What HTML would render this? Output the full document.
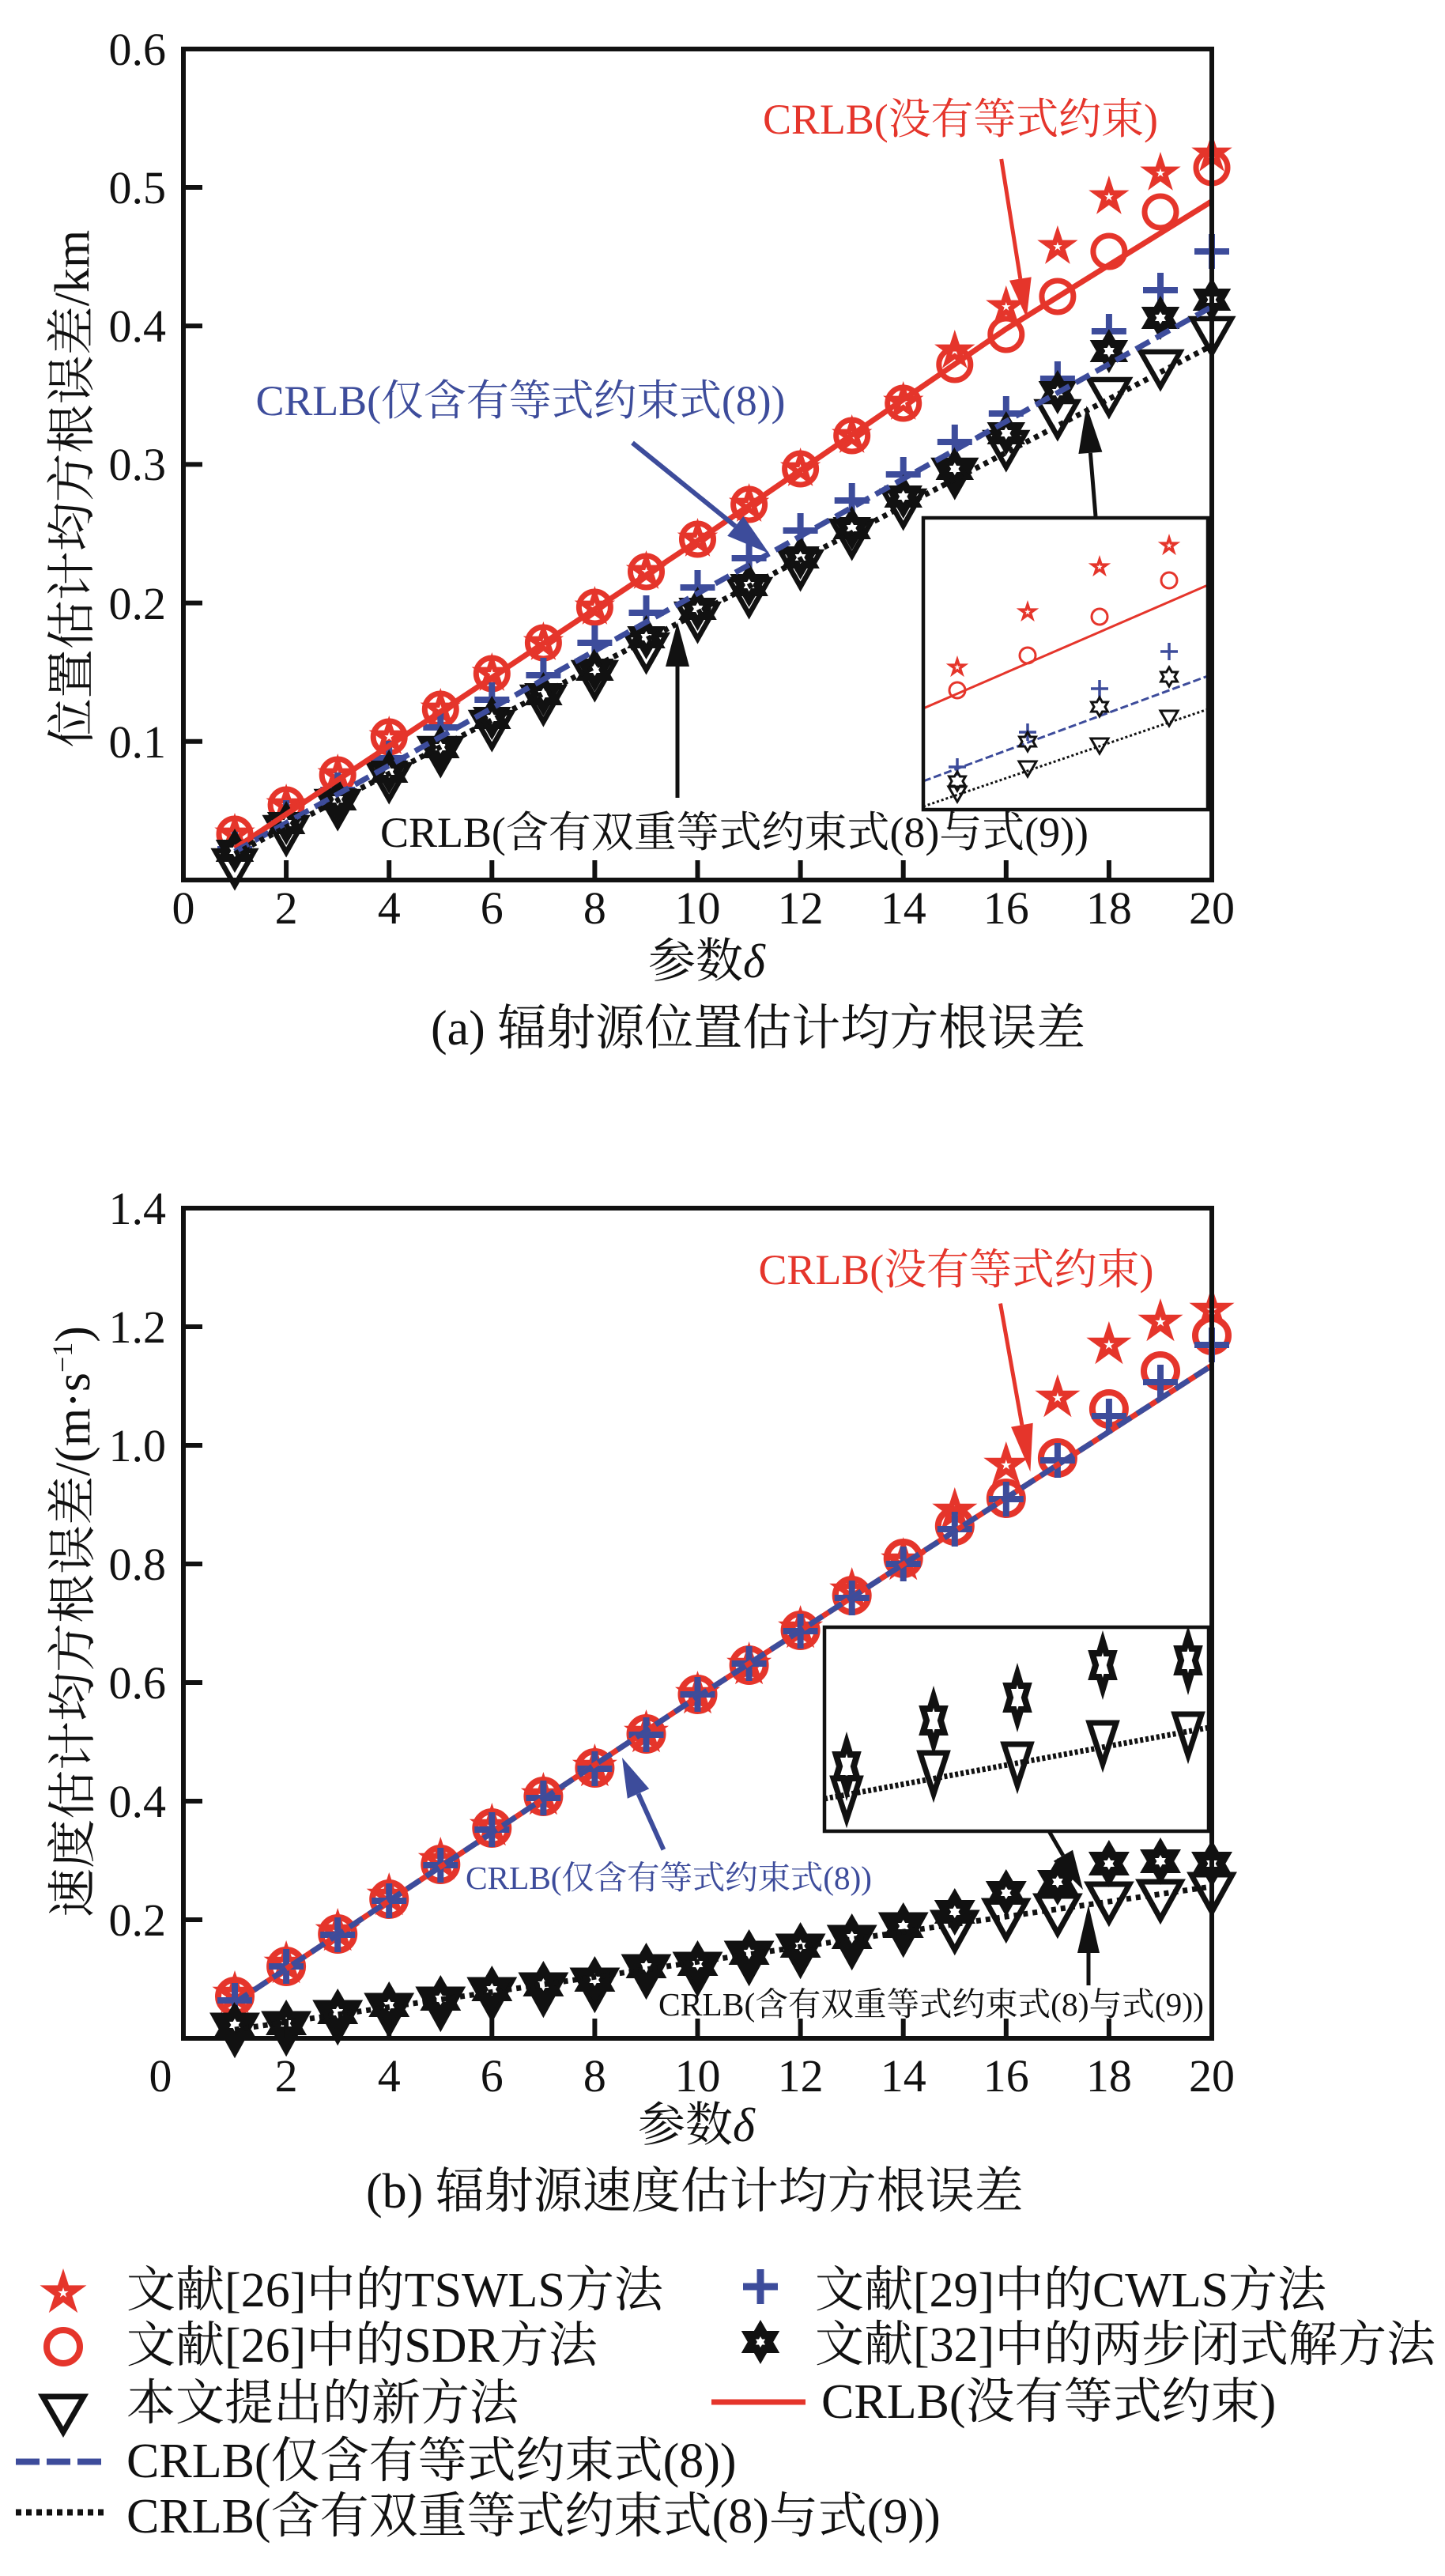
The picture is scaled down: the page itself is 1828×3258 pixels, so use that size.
<!DOCTYPE html>
<html>
<head>
<meta charset="utf-8">
<style>
html,body{margin:0;padding:0;background:#fff;}
svg{display:block;}
text{font-family:"Liberation Serif","Noto Serif CJK SC",serif;}
</style>
</head>
<body>
<svg xmlns="http://www.w3.org/2000/svg" width="1828" height="3258" viewBox="0 0 1828 3258">
<defs>
<polygon id="pent" points="0,-1 0.2245,-0.309 0.9511,-0.309 0.3633,0.118 0.5878,0.809 0,0.382 -0.5878,0.809 -0.3633,0.118 -0.9511,-0.309 -0.2245,-0.309"/>
<polygon id="hexp" points="0,-1 0.2887,-0.5 0.866,-0.5 0.577,0 0.866,0.5 0.2887,0.5 0,1 -0.2887,0.5 -0.866,0.5 -0.577,0 -0.866,-0.5 -0.2887,-0.5"/>
<g id="rsA"><use href="#pent" transform="scale(27)" fill="#e5352b"/><use href="#pent" transform="scale(6)" fill="#fff"/></g>
<g id="rcA"><circle r="20" fill="none" stroke="#e5352b" stroke-width="7"/></g>
<g id="bpA"><path d="M-22 0H22M0 -22V22" stroke="#3d4c9b" stroke-width="8" fill="none"/></g>
<g id="khA"><use href="#hexp" transform="scale(28)" fill="#111"/><use href="#hexp" transform="scale(8)" fill="#fff"/></g>
<g id="ktA"><polygon points="-25,-16 25,-16 0,28" fill="none" stroke="#111" stroke-width="6.5"/></g>
<g id="rsB"><use href="#pent" transform="scale(30)" fill="#e5352b"/><use href="#pent" transform="scale(7)" fill="#fff"/></g>
<g id="rcB"><circle r="21" fill="none" stroke="#e5352b" stroke-width="8"/></g>
<g id="khB"><use href="#hexp" transform="scale(30)" fill="#111"/><use href="#hexp" transform="scale(8)" fill="#fff"/></g>
<g id="ktB"><polygon points="-26,-17 26,-17 0,30" fill="none" stroke="#111" stroke-width="7"/></g>
<g id="rsI"><use href="#pent" transform="scale(15)" fill="#e5352b"/><use href="#pent" transform="scale(4)" fill="#fff"/></g>
<g id="rcI"><circle r="10" fill="none" stroke="#e5352b" stroke-width="3"/></g>
<g id="bpI"><path d="M-11 0H11M0 -11V11" stroke="#3d4c9b" stroke-width="3.5" fill="none"/></g>
<g id="khI"><use href="#hexp" transform="scale(12)" fill="none" stroke="#111" stroke-width="0.25"/></g>
<g id="ktI"><polygon points="-11,-7 11,-7 0,12" fill="none" stroke="#111" stroke-width="3"/></g>
<g id="khJ"><polygon points="0,-30 4.47,-15 13.4,-15 8.93,0 13.4,15 4.47,15 0,30 -4.47,15 -13.4,15 -8.93,0 -13.4,-15 -4.47,-15" fill="none" stroke="#111" stroke-width="8"/></g>
<g id="ktJ"><polygon points="-17,-20 17,-20 0,32" fill="none" stroke="#111" stroke-width="7"/></g>
<clipPath id="clipA"><rect x="1168" y="655" width="360" height="369"/></clipPath>
<clipPath id="clipB"><rect x="1043" y="2058" width="486" height="258"/></clipPath>
</defs>

<!-- ================= PLOT (a) ================= -->
<g>
<use href="#rsA" x="297" y="1055"/><use href="#rsA" x="362.1" y="1018"/><use href="#rsA" x="427.2" y="980"/><use href="#rsA" x="492.2" y="932"/><use href="#rsA" x="557.3" y="897"/><use href="#rsA" x="622.3" y="852"/><use href="#rsA" x="687.4" y="813"/><use href="#rsA" x="752.4" y="768"/><use href="#rsA" x="817.5" y="723"/><use href="#rsA" x="882.5" y="682"/><use href="#rsA" x="947.6" y="638"/><use href="#rsA" x="1012.6" y="593"/><use href="#rsA" x="1077.7" y="551"/><use href="#rsA" x="1142.7" y="509"/><use href="#rsA" x="1207.8" y="444"/><use href="#rsA" x="1272.8" y="388"/><use href="#rsA" x="1337.9" y="312"/><use href="#rsA" x="1402.9" y="249"/><use href="#rsA" x="1468" y="219"/><use href="#rsA" x="1533" y="195"/>
</g>
<g>
<use href="#rcA" x="297" y="1055"/><use href="#rcA" x="362.1" y="1018"/><use href="#rcA" x="427.2" y="980"/><use href="#rcA" x="492.2" y="932"/><use href="#rcA" x="557.3" y="897"/><use href="#rcA" x="622.3" y="852"/><use href="#rcA" x="687.4" y="813"/><use href="#rcA" x="752.4" y="768"/><use href="#rcA" x="817.5" y="723"/><use href="#rcA" x="882.5" y="682"/><use href="#rcA" x="947.6" y="638"/><use href="#rcA" x="1012.6" y="593"/><use href="#rcA" x="1077.7" y="551"/><use href="#rcA" x="1142.7" y="510"/><use href="#rcA" x="1207.8" y="461"/><use href="#rcA" x="1272.8" y="423"/><use href="#rcA" x="1337.9" y="375"/><use href="#rcA" x="1402.9" y="318"/><use href="#rcA" x="1468" y="268"/><use href="#rcA" x="1533" y="212"/>
</g>
<g>
<use href="#bpA" x="297" y="1074"/><use href="#bpA" x="362.1" y="1034"/><use href="#bpA" x="427.2" y="999"/><use href="#bpA" x="492.2" y="959"/><use href="#bpA" x="557.3" y="920"/><use href="#bpA" x="622.3" y="885"/><use href="#bpA" x="687.4" y="854"/><use href="#bpA" x="752.4" y="813"/><use href="#bpA" x="817.5" y="775"/><use href="#bpA" x="882.5" y="743"/><use href="#bpA" x="947.6" y="706"/><use href="#bpA" x="1012.6" y="671"/><use href="#bpA" x="1077.7" y="633"/><use href="#bpA" x="1142.7" y="600"/><use href="#bpA" x="1207.8" y="559"/><use href="#bpA" x="1272.8" y="523"/><use href="#bpA" x="1337.9" y="479"/><use href="#bpA" x="1402.9" y="419"/><use href="#bpA" x="1468" y="367"/><use href="#bpA" x="1533" y="318"/>
</g>
<g>
<use href="#ktA" x="297" y="1092"/><use href="#ktA" x="362.1" y="1050"/><use href="#ktA" x="427.2" y="1017"/><use href="#ktA" x="492.2" y="983"/><use href="#ktA" x="557.3" y="950"/><use href="#ktA" x="622.3" y="917"/><use href="#ktA" x="687.4" y="885"/><use href="#ktA" x="752.4" y="854"/><use href="#ktA" x="817.5" y="819"/><use href="#ktA" x="882.5" y="780"/><use href="#ktA" x="947.6" y="749"/><use href="#ktA" x="1012.6" y="714"/><use href="#ktA" x="1077.7" y="675"/><use href="#ktA" x="1142.7" y="637"/><use href="#ktA" x="1207.8" y="598"/><use href="#ktA" x="1272.8" y="563"/><use href="#ktA" x="1337.9" y="524"/><use href="#ktA" x="1402.9" y="496"/><use href="#ktA" x="1468" y="461"/><use href="#ktA" x="1533" y="419"/>
</g>
<g>
<use href="#khA" x="297" y="1076"/><use href="#khA" x="362.1" y="1041"/><use href="#khA" x="427.2" y="1011"/><use href="#khA" x="492.2" y="976"/><use href="#khA" x="557.3" y="945"/><use href="#khA" x="622.3" y="908"/><use href="#khA" x="687.4" y="878"/><use href="#khA" x="752.4" y="847"/><use href="#khA" x="817.5" y="806"/><use href="#khA" x="882.5" y="770"/><use href="#khA" x="947.6" y="740"/><use href="#khA" x="1012.6" y="705"/><use href="#khA" x="1077.7" y="668"/><use href="#khA" x="1142.7" y="628"/><use href="#khA" x="1207.8" y="593"/><use href="#khA" x="1272.8" y="548"/><use href="#khA" x="1337.9" y="496"/><use href="#khA" x="1402.9" y="444"/><use href="#khA" x="1468" y="402"/><use href="#khA" x="1533" y="379"/>
</g>
<polyline points="297,1073 882.5,684 1272.8,416 1533,254.5" fill="none" stroke="#e5352b" stroke-width="7"/>
<line x1="297" y1="1077" x2="1533" y2="388" stroke="#3d4c9b" stroke-width="7" stroke-dasharray="20 9"/>
<line x1="297" y1="1080" x2="1533" y2="437" stroke="#111" stroke-width="7" stroke-dasharray="6 6"/>

<rect x="232" y="62" width="1301" height="1051" fill="none" stroke="#111" stroke-width="6"/>
<path d="M231 237h25M231 412.2h25M231 587.4h25M231 762.6h25M231 937.8h25" stroke="#111" stroke-width="6"/>
<path d="M362.1 1113v-25M492.2 1113v-25M622.3 1113v-25M752.4 1113v-25M882.5 1113v-25M1012.6 1113v-25M1142.7 1113v-25M1272.8 1113v-25M1402.9 1113v-25" stroke="#111" stroke-width="6"/>

<rect x="1168" y="655" width="360" height="369" fill="#fff"/>
<g clip-path="url(#clipA)">
<line x1="1168" y1="896" x2="1528" y2="740" stroke="#e5352b" stroke-width="3"/>
<line x1="1168" y1="988" x2="1528" y2="855" stroke="#3d4c9b" stroke-width="3" stroke-dasharray="10 4"/>
<line x1="1168" y1="1020" x2="1528" y2="897" stroke="#111" stroke-width="3" stroke-dasharray="3 3"/>
<use href="#rsI" x="1211" y="844"/><use href="#rsI" x="1300" y="774"/><use href="#rsI" x="1391" y="717"/><use href="#rsI" x="1479" y="690"/>
<use href="#rcI" x="1211" y="873"/><use href="#rcI" x="1300" y="829"/><use href="#rcI" x="1391" y="780"/><use href="#rcI" x="1479" y="734"/>
<use href="#bpI" x="1211" y="970"/><use href="#bpI" x="1300" y="926"/><use href="#bpI" x="1391" y="871"/><use href="#bpI" x="1479" y="824"/>
<use href="#khI" x="1211" y="988"/><use href="#khI" x="1300" y="938"/><use href="#khI" x="1391" y="894"/><use href="#khI" x="1479" y="856"/>
<use href="#ktI" x="1211" y="1002"/><use href="#ktI" x="1300" y="970"/><use href="#ktI" x="1391" y="941"/><use href="#ktI" x="1479" y="906"/>
</g>
<rect x="1168" y="655" width="360" height="369" fill="none" stroke="#111" stroke-width="4.5"/>

<line x1="1266.7" y1="201" x2="1290.8" y2="352.6" stroke="#e5352b" stroke-width="5"/>
<polygon points="1298.7,402 1277,354.8 1304.7,350.4" fill="#e5352b"/>
<line x1="800" y1="560" x2="930.3" y2="665.4" stroke="#3d4c9b" stroke-width="6"/>
<polygon points="973,700 920.2,677.8 940.4,653" fill="#3d4c9b"/>
<line x1="857" y1="1009" x2="857" y2="843" stroke="#111" stroke-width="5"/>
<polygon points="857,787 842,843 872,843" fill="#111"/>
<line x1="1386" y1="653" x2="1379.4" y2="572.8" stroke="#111" stroke-width="5"/>
<polygon points="1374.5,513 1394.4,571.6 1364.4,574" fill="#111"/>

<text x="965" y="169" font-size="54" fill="#e5352b" textLength="500">CRLB(没有等式约束)</text>
<text x="323.5" y="525" font-size="54" fill="#3d4c9b" textLength="670">CRLB(仅含有等式约束式(8))</text>
<text x="481" y="1071" font-size="54" fill="#111" textLength="896">CRLB(含有双重等式约束式(8)与式(9))</text>

<g font-size="58" fill="#111" text-anchor="end">
<text x="210" y="82">0.6</text><text x="210" y="257">0.5</text><text x="210" y="432">0.4</text><text x="210" y="607">0.3</text><text x="210" y="783">0.2</text><text x="210" y="958">0.1</text>
</g>
<g font-size="58" fill="#111" text-anchor="middle">
<text x="232" y="1168">0</text><text x="362.1" y="1168">2</text><text x="492.2" y="1168">4</text><text x="622.3" y="1168">6</text><text x="752.4" y="1168">8</text><text x="882.5" y="1168">10</text><text x="1012.6" y="1168">12</text><text x="1142.7" y="1168">14</text><text x="1272.8" y="1168">16</text><text x="1402.9" y="1168">18</text><text x="1533" y="1168">20</text>
</g>
<text transform="translate(112,618) rotate(-90)" text-anchor="middle" font-size="62" fill="#111">位置估计均方根误差/km</text>
<text x="820" y="1236" font-size="60" fill="#111">参数<tspan font-style="italic">δ</tspan></text>
<text x="545" y="1321" font-size="62" fill="#111">(a) 辐射源位置估计均方根误差</text>

<!-- ================= PLOT (b) ================= -->
<g>
<use href="#rsB" x="297" y="2522"/><use href="#rsB" x="362.1" y="2484"/><use href="#rsB" x="427.2" y="2443"/><use href="#rsB" x="492.2" y="2398"/><use href="#rsB" x="557.3" y="2353"/><use href="#rsB" x="622.3" y="2310"/><use href="#rsB" x="687.4" y="2271"/><use href="#rsB" x="752.4" y="2235"/><use href="#rsB" x="817.5" y="2192"/><use href="#rsB" x="882.5" y="2143"/><use href="#rsB" x="947.6" y="2106"/><use href="#rsB" x="1012.6" y="2060"/><use href="#rsB" x="1077.7" y="2012"/><use href="#rsB" x="1142.7" y="1974"/><use href="#rsB" x="1207.8" y="1911"/><use href="#rsB" x="1272.8" y="1853"/><use href="#rsB" x="1337.9" y="1768"/><use href="#rsB" x="1402.9" y="1701"/><use href="#rsB" x="1468" y="1672"/><use href="#rsB" x="1533" y="1657"/>
</g>
<g>
<use href="#rcB" x="297" y="2525"/><use href="#rcB" x="362.1" y="2487"/><use href="#rcB" x="427.2" y="2446"/><use href="#rcB" x="492.2" y="2402"/><use href="#rcB" x="557.3" y="2358"/><use href="#rcB" x="622.3" y="2312"/><use href="#rcB" x="687.4" y="2272"/><use href="#rcB" x="752.4" y="2236"/><use href="#rcB" x="817.5" y="2193"/><use href="#rcB" x="882.5" y="2143"/><use href="#rcB" x="947.6" y="2106"/><use href="#rcB" x="1012.6" y="2062"/><use href="#rcB" x="1077.7" y="2018"/><use href="#rcB" x="1142.7" y="1971"/><use href="#rcB" x="1207.8" y="1930"/><use href="#rcB" x="1272.8" y="1895"/><use href="#rcB" x="1337.9" y="1844"/><use href="#rcB" x="1402.9" y="1782"/><use href="#rcB" x="1468" y="1734"/><use href="#rcB" x="1533" y="1689"/>
</g>
<g>
<use href="#bpA" x="297" y="2530"/><use href="#bpA" x="362.1" y="2487"/><use href="#bpA" x="427.2" y="2447"/><use href="#bpA" x="492.2" y="2404"/><use href="#bpA" x="557.3" y="2359"/><use href="#bpA" x="622.3" y="2314"/><use href="#bpA" x="687.4" y="2274"/><use href="#bpA" x="752.4" y="2237"/><use href="#bpA" x="817.5" y="2194"/><use href="#bpA" x="882.5" y="2143"/><use href="#bpA" x="947.6" y="2104"/><use href="#bpA" x="1012.6" y="2063"/><use href="#bpA" x="1077.7" y="2021"/><use href="#bpA" x="1142.7" y="1978"/><use href="#bpA" x="1207.8" y="1934"/><use href="#bpA" x="1272.8" y="1896"/><use href="#bpA" x="1337.9" y="1847"/><use href="#bpA" x="1402.9" y="1791"/><use href="#bpA" x="1468" y="1748"/><use href="#bpA" x="1533" y="1701"/>
</g>
<g>
<use href="#ktB" x="297" y="2566"/><use href="#ktB" x="362.1" y="2564"/><use href="#ktB" x="427.2" y="2550"/><use href="#ktB" x="492.2" y="2541"/><use href="#ktB" x="557.3" y="2533"/><use href="#ktB" x="622.3" y="2521"/><use href="#ktB" x="687.4" y="2515"/><use href="#ktB" x="752.4" y="2509"/><use href="#ktB" x="817.5" y="2492"/><use href="#ktB" x="882.5" y="2489"/><use href="#ktB" x="947.6" y="2475"/><use href="#ktB" x="1012.6" y="2466"/><use href="#ktB" x="1077.7" y="2455"/><use href="#ktB" x="1142.7" y="2439"/><use href="#ktB" x="1207.8" y="2436"/><use href="#ktB" x="1272.8" y="2421"/><use href="#ktB" x="1337.9" y="2415"/><use href="#ktB" x="1402.9" y="2400"/><use href="#ktB" x="1468" y="2397"/><use href="#ktB" x="1533" y="2388"/>
</g>
<g>
<use href="#khB" x="297" y="2561"/><use href="#khB" x="362.1" y="2559"/><use href="#khB" x="427.2" y="2545"/><use href="#khB" x="492.2" y="2536"/><use href="#khB" x="557.3" y="2528"/><use href="#khB" x="622.3" y="2516"/><use href="#khB" x="687.4" y="2510"/><use href="#khB" x="752.4" y="2504"/><use href="#khB" x="817.5" y="2487"/><use href="#khB" x="882.5" y="2484"/><use href="#khB" x="947.6" y="2470"/><use href="#khB" x="1012.6" y="2461"/><use href="#khB" x="1077.7" y="2450"/><use href="#khB" x="1142.7" y="2436"/><use href="#khB" x="1207.8" y="2418"/><use href="#khB" x="1272.8" y="2394"/><use href="#khB" x="1337.9" y="2380"/><use href="#khB" x="1402.9" y="2357"/><use href="#khB" x="1468" y="2354"/><use href="#khB" x="1533" y="2357"/>
</g>
<polyline points="297,2533 882.5,2146 1533,1727" fill="none" stroke="#e5352b" stroke-width="7"/>
<polyline points="297,2533 882.5,2146 1533,1727" fill="none" stroke="#3d4c9b" stroke-width="7" stroke-dasharray="20 9"/>
<line x1="297" y1="2567" x2="1533" y2="2386" stroke="#111" stroke-width="7" stroke-dasharray="6 6"/>

<rect x="232" y="1528" width="1301" height="1050" fill="none" stroke="#111" stroke-width="6"/>
<path d="M231 1678h25M231 1828h25M231 1978h25M231 2128h25M231 2278h25M231 2428h25" stroke="#111" stroke-width="6"/>
<path d="M362.1 2578v-25M492.2 2578v-25M622.3 2578v-25M752.4 2578v-25M882.5 2578v-25M1012.6 2578v-25M1142.7 2578v-25M1272.8 2578v-25M1402.9 2578v-25" stroke="#111" stroke-width="6"/>

<rect x="1043" y="2058" width="486" height="258" fill="#fff"/>
<g clip-path="url(#clipB)">
<line x1="1043" y1="2275" x2="1529" y2="2185" stroke="#111" stroke-width="7" stroke-dasharray="4 3"/>
<use href="#khJ" x="1071" y="2234"/><use href="#khJ" x="1181" y="2176"/><use href="#khJ" x="1287" y="2147"/><use href="#khJ" x="1395" y="2106"/><use href="#khJ" x="1503" y="2100"/>
<use href="#ktJ" x="1071" y="2269"/><use href="#ktJ" x="1181" y="2237"/><use href="#ktJ" x="1287" y="2226"/><use href="#ktJ" x="1395" y="2199"/><use href="#ktJ" x="1503" y="2188"/>
</g>
<rect x="1043" y="2058" width="486" height="258" fill="none" stroke="#111" stroke-width="4.5"/>

<line x1="1265.5" y1="1648.6" x2="1292.9" y2="1802.3" stroke="#e5352b" stroke-width="5"/>
<polygon points="1303.4,1861.4 1279.1,1804.8 1306.7,1799.8" fill="#e5352b"/>
<line x1="839.4" y1="2339.4" x2="807.5" y2="2268.6" stroke="#3d4c9b" stroke-width="6"/>
<polygon points="787,2223 821.2,2262.4 793.8,2274.8" fill="#3d4c9b"/>
<line x1="1327" y1="2316" x2="1344.9" y2="2346.8" stroke="#111" stroke-width="5"/>
<polygon points="1370,2390 1332.8,2353.8 1357,2339.8" fill="#111"/>
<line x1="1377" y1="2511" x2="1377" y2="2470" stroke="#111" stroke-width="5"/>
<polygon points="1377,2409 1363,2470 1391,2470" fill="#111"/>

<text x="959.5" y="1624" font-size="54" fill="#e5352b" textLength="500">CRLB(没有等式约束)</text>
<text x="589" y="2389" font-size="41.5" fill="#3d4c9b" textLength="514">CRLB(仅含有等式约束式(8))</text>
<text x="833" y="2549" font-size="41.5" fill="#111" textLength="690">CRLB(含有双重等式约束式(8)与式(9))</text>

<g font-size="58" fill="#111" text-anchor="end">
<text x="210" y="1548">1.4</text><text x="210" y="1698">1.2</text><text x="210" y="1848">1.0</text><text x="210" y="1998">0.8</text><text x="210" y="2148">0.6</text><text x="210" y="2298">0.4</text><text x="210" y="2448">0.2</text>
</g>
<g font-size="58" fill="#111" text-anchor="middle">
<text x="203" y="2645">0</text><text x="362.1" y="2645">2</text><text x="492.2" y="2645">4</text><text x="622.3" y="2645">6</text><text x="752.4" y="2645">8</text><text x="882.5" y="2645">10</text><text x="1012.6" y="2645">12</text><text x="1142.7" y="2645">14</text><text x="1272.8" y="2645">16</text><text x="1402.9" y="2645">18</text><text x="1533" y="2645">20</text>
</g>
<text transform="translate(113,2051) rotate(-90)" text-anchor="middle" font-size="62" fill="#111">速度估计均方根误差/(m·s<tspan font-size="36" dy="-22">−1</tspan><tspan dy="22">)</tspan></text>
<text x="807" y="2708" font-size="60" fill="#111">参数<tspan font-style="italic">δ</tspan></text>
<text x="463" y="2792" font-size="62" fill="#111">(b) 辐射源速度估计均方根误差</text>

<!-- ================= LEGEND ================= -->
<use href="#pent" transform="translate(80,2900) scale(31)" fill="#e5352b"/>
<use href="#pent" transform="translate(80,2900) scale(7)" fill="#fff"/>
<circle cx="80" cy="2968" r="21" fill="none" stroke="#e5352b" stroke-width="8"/>
<polygon points="54,3031 106,3031 80,3076" fill="none" stroke="#111" stroke-width="7"/>
<line x1="20" y1="3113.5" x2="137" y2="3113.5" stroke="#3d4c9b" stroke-width="8" stroke-dasharray="30 9"/>
<line x1="20" y1="3177.5" x2="137" y2="3177.5" stroke="#111" stroke-width="8" stroke-dasharray="7 6"/>
<path d="M940 2892H984M962 2870V2914" stroke="#3d4c9b" stroke-width="9"/>
<use href="#hexp" transform="translate(962,2962) scale(28)" fill="#111"/>
<use href="#hexp" transform="translate(962,2962) scale(7)" fill="#fff"/>
<line x1="900" y1="3038" x2="1019" y2="3038" stroke="#e5352b" stroke-width="7"/>

<g font-size="62" fill="#111">
<text x="160" y="2917" textLength="679">文献[26]中的TSWLS方法</text>
<text x="160" y="2987">文献[26]中的SDR方法</text>
<text x="160" y="3060">本文提出的新方法</text>
<text x="160" y="3133">CRLB(仅含有等式约束式(8))</text>
<text x="160" y="3203">CRLB(含有双重等式约束式(8)与式(9))</text>
<text x="1031" y="2917" textLength="647">文献[29]中的CWLS方法</text>
<text x="1031" y="2986" textLength="785">文献[32]中的两步闭式解方法</text>
<text x="1039" y="3058">CRLB(没有等式约束)</text>
</g>
</svg>
</body>
</html>
